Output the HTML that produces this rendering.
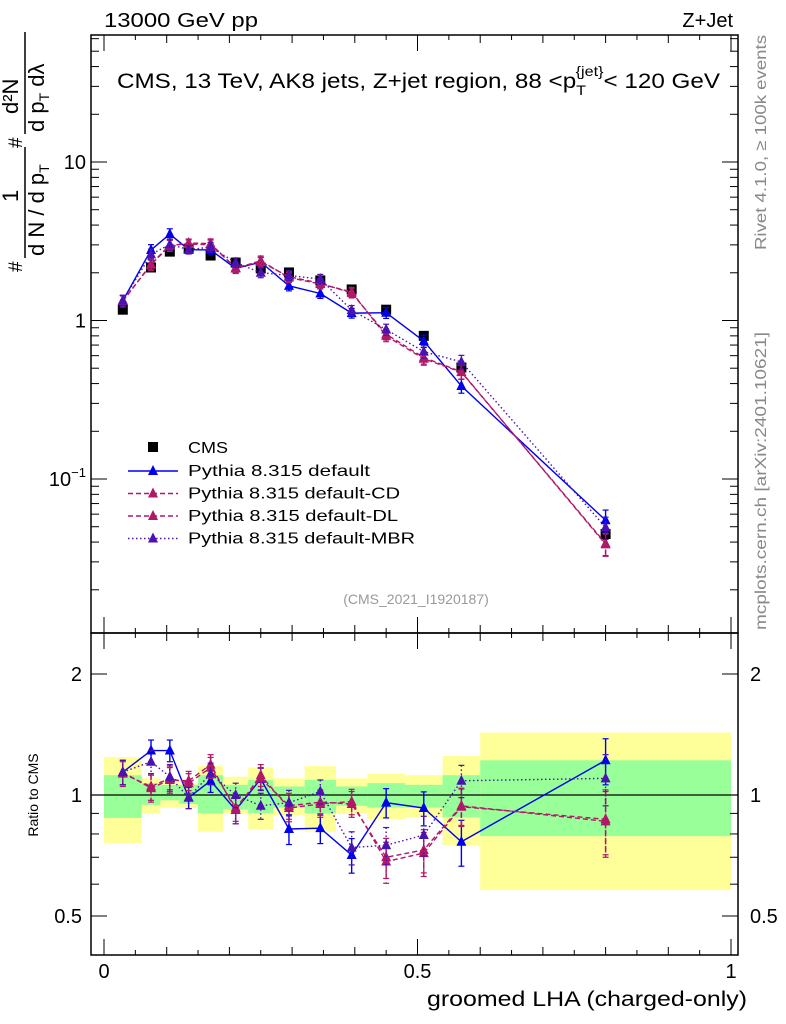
<!DOCTYPE html>
<html><head><meta charset="utf-8"><style>
html,body{margin:0;padding:0;background:#fff;}
svg{display:block;font-family:"Liberation Sans",sans-serif;}
</style></head><body>
<svg id="c" width="786" height="1024" viewBox="0 0 786 1024" xmlns="http://www.w3.org/2000/svg">
<g id="bands"></g>
<g id="ratio"></g>
<g id="main"></g>
<g id="axes"></g>
<text x="104" y="27" font-size="20" textLength="154" lengthAdjust="spacingAndGlyphs">13000 GeV pp</text>
<text x="733" y="27" font-size="20" text-anchor="end">Z+Jet</text>
<text x="117" y="88" font-size="21" textLength="603" lengthAdjust="spacingAndGlyphs">CMS, 13 TeV, AK8 jets, Z+jet region, 88 &lt;p<tspan font-size="14" dy="7">T</tspan><tspan font-size="14" dy="-19" dx="-9">{jet}</tspan><tspan dy="12">&lt; 120 GeV</tspan></text>
<text x="416" y="604" font-size="14" fill="#999" text-anchor="middle">(CMS_2021_I1920187)</text>
<text transform="translate(766,250) rotate(-90)" font-size="16" fill="#888" textLength="215" lengthAdjust="spacingAndGlyphs">Rivet 4.1.0, ≥ 100k events</text>
<text transform="translate(766,630) rotate(-90)" font-size="16" fill="#888" textLength="298" lengthAdjust="spacingAndGlyphs">mcplots.cern.ch [arXiv:2401.10621]</text>
<text x="427" y="1006" font-size="21" textLength="320" lengthAdjust="spacingAndGlyphs">groomed LHA (charged-only)</text>
<text transform="translate(38,795) rotate(-90)" font-size="14" text-anchor="middle">Ratio to CMS</text>
<g transform="translate(0,272) rotate(-90)" font-size="22">
<text x="0" y="22" font-size="19">#</text>
<text x="16" y="44">d N / d p<tspan font-size="14" dy="5">T</tspan></text>
<text x="70" y="18">1</text>
<line x1="14" y1="25" x2="125" y2="25" stroke="#000" stroke-width="1.5"/>
<text x="124" y="22" font-size="19">#</text>
<text x="140" y="44">d p<tspan font-size="14" dy="5">T</tspan><tspan dy="-5"> d</tspan>λ</text>
<text x="158" y="18">d²N</text>
<line x1="138" y1="25" x2="240" y2="25" stroke="#000" stroke-width="1.5"/>
</g>
<g id="legend"></g>
</svg>
<script>
const edges=[0,0.06,0.09,0.12,0.15,0.19,0.23,0.27,0.32,0.37,0.42,0.48,0.54,0.6,1.0];
const cmsValues=[1.17,2.16,2.72,2.84,2.57,2.32,2.13,2.01,1.79,1.57,1.17,0.80,0.505,0.045];
const ratioDefault=[1.14,1.29,1.29,0.985,1.085,0.918,1.096,0.823,0.827,0.709,0.957,0.928,0.765,1.22];
const ratioCD=[1.14,1.04,1.09,1.085,1.19,0.918,1.12,0.928,0.95,0.963,0.683,0.717,0.935,0.87];
const ratioDL=[1.13,1.05,1.10,1.07,1.17,0.93,1.10,0.94,0.96,0.95,0.70,0.73,0.94,0.86];
const ratioMBR=[1.14,1.21,1.11,0.985,1.13,1.0,0.94,0.957,1.02,0.74,0.75,0.795,1.085,1.10];
const ratioErr=[0.08,0.08,0.08,0.06,0.07,0.07,0.07,0.07,0.07,0.07,0.08,0.09,0.1,0.16];
const yellowHi=[1.243,1.1,1.08,1.07,1.18,1.11,1.17,1.1,1.18,1.1,1.13,1.12,1.25,1.43];
const yellowLo=[0.76,0.9,0.93,0.93,0.81,0.9,0.82,0.89,0.81,0.9,0.87,0.88,0.75,0.58];
const greenHi=[1.12,1.07,1.06,1.06,1.12,1.06,1.09,1.05,1.09,1.05,1.07,1.06,1.12,1.22];
const greenLo=[0.877,0.945,0.97,0.95,0.9,0.92,0.9,0.93,0.9,0.94,0.93,0.93,0.88,0.79];
const yTicksMain=[{v:10,l:"10"},{v:1,l:"1"}];
const yTicksRatio=[{v:2,l:"2"},{v:1,l:"1"},{v:0.5,l:"0.5"}];
const xTicks=[{v:0,l:"0"},{v:0.5,l:"0.5"},{v:1,l:"1"}];

const NS="http://www.w3.org/2000/svg";
const L=91,R=738,MT=35,MB=633,RB=955;
const sx=v=>104+v*627;
const syM=v=>162-(Math.log10(v)-1)*158.5;
const syR=v=>795-Math.log2(v)*121;
function mk(p,t,a){const e=document.createElementNS(NS,t);for(const k in a)e.setAttribute(k,a[k]);p.appendChild(e);return e;}
const centers=edges.slice(0,-1).map((e,i)=>(e+edges[i+1])/2);

const bands=document.getElementById('bands');
centers.forEach((c,i)=>{
  let r=mk(bands,'rect',{x:sx(edges[i]),y:syR(yellowHi[i]),width:sx(edges[i+1])-sx(edges[i]),height:syR(yellowLo[i])-syR(yellowHi[i]),fill:'#ffff99'});
  
  
  let g=mk(bands,'rect',{x:sx(edges[i]),y:syR(greenHi[i]),width:sx(edges[i+1])-sx(edges[i]),height:syR(greenLo[i])-syR(greenHi[i]),fill:'#99ff99'});
  
  
});
mk(bands,'line',{x1:L,x2:R,y1:syR(1),y2:syR(1),stroke:'#000','stroke-width':1.2});

function tri(p,x,y,col){return mk(p,'path',{d:`M${x-5},${y+4}L${x+5},${y+4}L${x},${y-6}Z`,fill:col});}
const series=[
 {name:'Pythia 8.315 default',r:ratioDefault,col:'#0000ee',dash:'',id:'default',w:142},
 {name:'Pythia 8.315 default-CD',r:ratioCD,col:'#b0186a',dash:'5,3',id:'cd',w:172},
 {name:'Pythia 8.315 default-DL',r:ratioDL,col:'#b0186a',dash:'5,3',id:'dl',w:170},
 {name:'Pythia 8.315 default-MBR',r:ratioMBR,col:'#4a12b0',dash:'1.5,2.5',id:'mbr',w:187}];
const main=document.getElementById('main'),ratio=document.getElementById('ratio');
centers.forEach((c,i)=>{
  let s=mk(main,'rect',{x:sx(c)-5,y:syM(cmsValues[i])-5,width:10,height:10,fill:'#000'});
  
  
});
series.forEach(s=>{
  const gm=mk(main,'g',{});
  
  
  const gr=mk(ratio,'g',{});
  
  
  const ptsM=centers.map((c,i)=>sx(c)+','+syM(cmsValues[i]*s.r[i])).join(' ');
  const ptsR=centers.map((c,i)=>sx(c)+','+syR(s.r[i])).join(' ');
  mk(gm,'polyline',{points:ptsM,fill:'none',stroke:s.col,'stroke-width':1.4,'stroke-dasharray':s.dash});
  mk(gr,'polyline',{points:ptsR,fill:'none',stroke:s.col,'stroke-width':1.4,'stroke-dasharray':s.dash});
  centers.forEach((c,i)=>{
    const x=sx(c),v=cmsValues[i]*s.r[i],e=ratioErr[i];
    mk(gm,'line',{x1:x,x2:x,y1:syM(v*(1+e)),y2:syM(v*(1-e)),stroke:s.col,'stroke-width':1.4,'stroke-dasharray':s.dash});
    mk(gm,'line',{x1:x-3,x2:x+3,y1:syM(v*(1+e)),y2:syM(v*(1+e)),stroke:s.col,'stroke-width':1.2});
    mk(gm,'line',{x1:x-3,x2:x+3,y1:syM(v*(1-e)),y2:syM(v*(1-e)),stroke:s.col,'stroke-width':1.2});
    tri(gm,x,syM(v),s.col);
    const r=s.r[i];
    mk(gr,'line',{x1:x,x2:x,y1:syR(r+e),y2:syR(r-e),stroke:s.col,'stroke-width':1.4,'stroke-dasharray':s.dash});
    mk(gr,'line',{x1:x-3,x2:x+3,y1:syR(r+e),y2:syR(r+e),stroke:s.col,'stroke-width':1.2});
    mk(gr,'line',{x1:x-3,x2:x+3,y1:syR(r-e),y2:syR(r-e),stroke:s.col,'stroke-width':1.2});
    tri(gr,x,syR(r),s.col);
  });
});
const lg=document.getElementById('legend');
mk(lg,'rect',{x:148,y:442,width:10,height:10,fill:'#000'});
let t=mk(lg,'text',{x:188,y:453,'font-size':16,textLength:40,lengthAdjust:'spacingAndGlyphs'});t.textContent='CMS';
series.forEach((s,i)=>{
  const y=471+i*22.5;
  mk(lg,'line',{x1:128,x2:178,y1:y,y2:y,stroke:s.col,'stroke-width':1.4,'stroke-dasharray':s.dash});
  tri(lg,153,y,s.col);
  const tx=mk(lg,'text',{x:188,y:y+5,'font-size':16,textLength:s.w+40,lengthAdjust:'spacingAndGlyphs'});tx.textContent=s.name;
});
const ax=document.getElementById('axes');
const fr={fill:'none',stroke:'#000','stroke-width':1.5};
mk(ax,'rect',Object.assign({x:L,y:MT,width:R-L,height:MB-MT},fr));
mk(ax,'rect',Object.assign({x:L,y:MB,width:R-L,height:RB-MB},fr));
for(let d=-2;d<=1;d++)for(let m=1;m<10;m++){
  const v=m*Math.pow(10,d),y=syM(v);if(y<MT||y>MB)continue;
  const len=m==1?16:8;
  mk(ax,'line',{x1:L,x2:L+len,y1:y,y2:y,stroke:'#000'});
  mk(ax,'line',{x1:R,x2:R-len,y1:y,y2:y,stroke:'#000'});
}
yTicksMain.forEach(tk=>{const e=mk(ax,'text',{x:L-5,y:syM(tk.v)+7,'font-size':20,'text-anchor':'end'});e.textContent=tk.l;});
const e10=mk(ax,'text',{x:L-5,y:syM(0.1)+7,'font-size':20,'text-anchor':'end'});
e10.innerHTML='10<tspan font-size="13" dy="-9">−1</tspan>';
[0.5,0.6,0.7,0.8,0.9,1,2].forEach(v=>{const y=syR(v),len=(v==1||v==2||v==0.5)?16:8;
  mk(ax,'line',{x1:L,x2:L+len,y1:y,y2:y,stroke:'#000'});mk(ax,'line',{x1:R,x2:R-len,y1:y,y2:y,stroke:'#000'});});
yTicksRatio.forEach(tk=>{
  const a=mk(ax,'text',{x:L-9,y:syR(tk.v)+7,'font-size':20,'text-anchor':'end'});a.textContent=tk.l;
  const b=mk(ax,'text',{x:R+12,y:syR(tk.v)+7,'font-size':20});b.textContent=tk.l;});
for(let k=0;k<=20;k++){const v=k*0.05,x=sx(v),len=k%10==0?16:(k%2==0?8:5);
  [[RB,-1],[MB,-1],[MB,1],[MT,1]].forEach(([y0,s])=>mk(ax,'line',{x1:x,x2:x,y1:y0,y2:y0+s*len,stroke:'#000'}));}
xTicks.forEach(tk=>{const e=mk(ax,'text',{x:sx(tk.v),y:978,'font-size':20,'text-anchor':'middle'});e.textContent=tk.l;});
</script>
</body></html>
